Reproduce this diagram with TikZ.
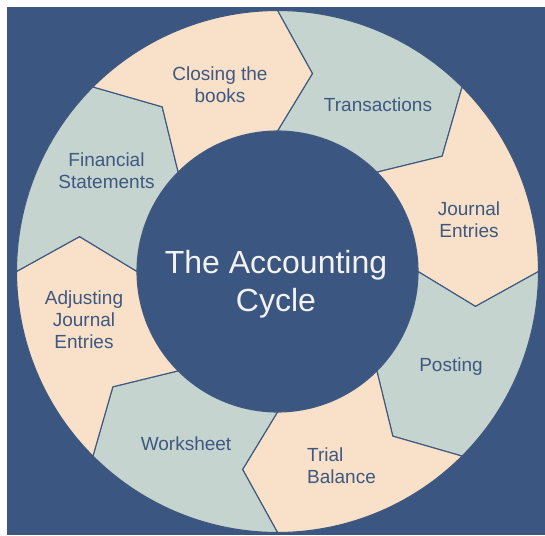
\documentclass[tikz,border=0pt]{standalone}
\usepackage{fontspec}
\setmainfont{Liberation Sans}
\definecolor{bgblue}{RGB}{59,86,128}
\definecolor{edgeblue}{RGB}{62,88,128}
\definecolor{segA}{RGB}{197,212,206}
\definecolor{segB}{RGB}{248,225,200}
\definecolor{txtblue}{RGB}{62,88,130}
\definecolor{titlewhite}{RGB}{242,242,242}
\begin{document}
\begin{tikzpicture}[x=1pt,y=1pt,
  seg/.style={draw=edgeblue, line width=1.1pt, line join=miter},
  lbl/.style={font=\fontsize{19}{22}\selectfont, text=txtblue, align=center, inner sep=0pt},
  ttl/.style={font=\fontsize{32}{38}\selectfont, text=titlewhite, align=center, inner sep=0pt}]
\useasboundingbox (0,0) rectangle (545,-535);
\fill[white] (0,0) rectangle (545,-535);
\fill[bgblue] (7,-7) rectangle (545,-535);
\begin{scope}[shift={(277.5,-271.5)}]
\foreach \a/\col in {90/segA,45/segB,0/segA,-45/segB,-90/segA,-135/segB,-180/segA,-225/segB} {
  \path[seg, fill=\col] (\a:261) arc[start angle=\a, end angle=\a-45, radius=261]
    -- (\a-55:201) -- (\a-45:140.5) arc[start angle=\a-45, end angle=\a, radius=140.5]
    -- (\a-10:201) -- cycle;
}
\end{scope}
\node[ttl, anchor=base] (title) at (276,-311) {The Accounting\\Cycle};
\node[lbl, anchor=base] (closing) at (220,-102) {Closing the\\books};
\node[lbl, anchor=base] (trans) at (378,-111) {Transactions};
\node[lbl, anchor=base] (journal) at (469,-237) {Journal\\Entries};
\node[lbl, anchor=base] (posting) at (451,-371) {Posting};
\node[lbl, anchor=base west, align=left] (trial) at (307,-483) {Trial\\Balance};
\node[lbl, anchor=base] (worksheet) at (186,-450) {Worksheet};
\node[lbl, anchor=base] (adjusting) at (84,-348) {Adjusting\\Journal\\Entries};
\node[lbl, anchor=base] (financial) at (106.5,-188) {Financial\\Statements};
\end{tikzpicture}
\end{document}
